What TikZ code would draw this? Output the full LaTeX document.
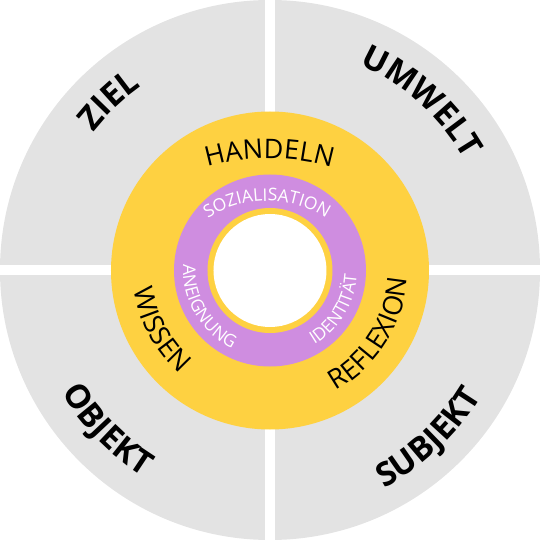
\documentclass[tikz,border=0pt]{standalone}
\usepackage{fontspec}
\setmainfont{Open Sans}
\usetikzlibrary{decorations.text}
\definecolor{ringgray}{HTML}{E3E3E3}
\definecolor{ringyellow}{HTML}{FED141}
\definecolor{ringpurple}{HTML}{CF8DE0}
\newcommand\outerfmt{\fontsize{33}{33}\selectfont\bfseries\color{black}}
\newcommand\midfmt{\fontsize{27}{27}\selectfont\color{black}}
\newcommand\innerfmt{\fontsize{17.5}{17.5}\selectfont\color{white}}
\tikzset{
  outerlabel/.style={postaction={decorate},decoration={text along path,text align=center,text={|\outerfmt|#1}}},
  midlabel/.style={postaction={decorate},decoration={text along path,text align=center,text={|\midfmt|#1}}},
  innerlabel/.style={postaction={decorate},decoration={text along path,text align=center,text={|\innerfmt|#1}}}
}
\begin{document}
\begin{tikzpicture}[x=1pt,y=1pt]
\path[use as bounding box] (-270,-271) rectangle (270,270);
% grey quadrants
\fill[ringgray] (0,0) circle[radius=270];
\fill[white] (-5,-280) rectangle (5,280);
\fill[white] (-280,-5) rectangle (280,5);
% rings
\fill[ringyellow] (0,-0.5) circle[radius=159];
\fill[ringpurple] (0,-0.5) circle[radius=96];
\fill[ringyellow] (0,-0.5) circle[radius=62.5];
\fill[white] (0,-0.5) circle[radius=56.5];
% outer labels (tops outward on top, inward at bottom)
\path[outerlabel=ZIEL] (163.5:224) arc[start angle=163.5,end angle=103.5,radius=224];
\path[outerlabel=UMWELT] (78:224) arc[start angle=78,end angle=18,radius=224];
\path[outerlabel=OBJEKT] (194.5:242) arc[start angle=194.5,end angle=254.5,radius=242];
\path[outerlabel=SUBJEKT] (283.4:246) arc[start angle=283.4,end angle=343.4,radius=246];
% yellow ring labels
\path[midlabel=HANDELN] ([shift={(-0.5,-111.3)}]125:223) arc[start angle=125,end angle=55,radius=223];
\path[midlabel=WISSEN] (168.6:137.5) arc[start angle=168.6,end angle=248.6,radius=137.5];
\path[midlabel=REFLEXION] (287.6:137.5) arc[start angle=287.6,end angle=367.6,radius=137.5];
% purple ring labels
\path[innerlabel=SOZIALISATION] ([shift={(-3,-39.5)}]135:108.5) arc[start angle=135,end angle=45,radius=108.5];
\path[innerlabel=ANEIGNUNG] (160.3:87) arc[start angle=160.3,end angle=260.3,radius=87];
\path[innerlabel=IDENTITÄT] (278.9:87) arc[start angle=278.9,end angle=378.9,radius=87];
\end{tikzpicture}
\end{document}
